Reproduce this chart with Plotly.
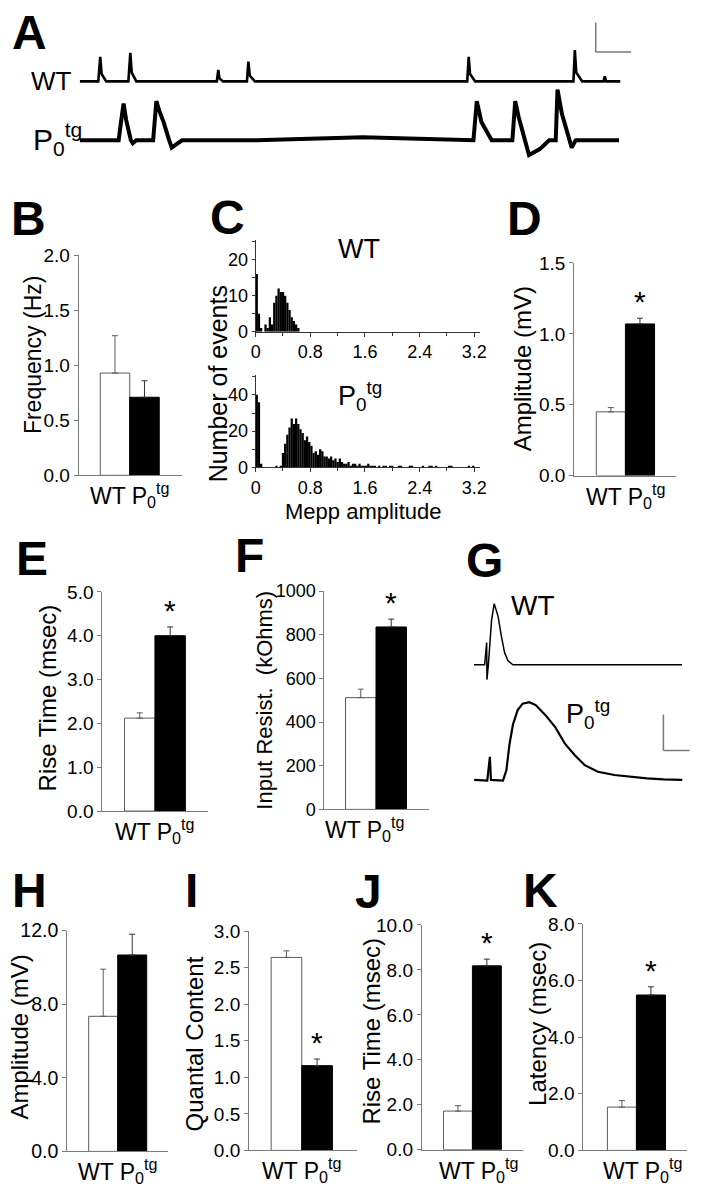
import plotly.graph_objects as go

W, H = 706, 1200
FONT = "Liberation Sans, Arial, Helvetica, sans-serif"
AXC = "#7a7a7a"

# ---------------- data ----------------
groups = ["WT", "P0tg"]
freq_mean, freq_err = [0.93, 0.71], [0.34, 0.15]
mepp_amp_mean, mepp_amp_err = [0.45, 1.07], [0.03, 0.04]
mepp_rise_mean, mepp_rise_err = [2.12, 4.00], [0.12, 0.20]
input_res_mean, input_res_err = [512, 836], [39, 36]
epp_amp_mean, epp_amp_err = [7.34, 10.67], [2.56, 1.13]
quantal_mean, quantal_err = [2.64, 1.16], [0.09, 0.09]
epp_rise_mean, epp_rise_err = [1.72, 8.18], [0.24, 0.30]
latency_mean, latency_err = [1.53, 5.49], [0.23, 0.29]

# MEPP amplitude histograms (bin width 0.032 mV, bins start at 0)
BIN = 0.032
wt_counts = [16, 5, 1, 0, 2, 1, 4, 2, 8, 10, 12, 11, 11, 10, 8, 6, 4, 3, 2, 1]
p0_counts = [40, 36, 2, 0, 0, 0, 0, 0, 0, 1,
             0, 1, 8, 13, 18, 22, 27, 24, 27, 24,
             21, 19, 15, 17, 14, 12, 8, 9, 7, 10,
             9, 6, 6, 5, 6, 4, 5, 3, 5, 3,
             2, 2, 3, 1, 2, 2, 1, 2, 1, 1,
             1, 2, 1, 1, 1, 0, 1, 0, 1, 1,
             0, 1, 1, 0, 0, 1, 1, 0, 0, 0,
             1, 1, 0, 0, 0, 0, 1, 0, 0, 1,
             1, 0, 1, 0, 0, 0, 0, 0, 1, 1,
             0, 0, 0, 0, 0, 0, 0, 1, 0, 1]
hist_ticks = [0, 0.8, 1.6, 2.4, 3.2]
hist_ticktext = ["0", "0.8", "1.6", "2.4", "3.2"]

# Panel A: spontaneous MEPP traces (time s, membrane potential mV rel. baseline)
wt_a_t = [0, 0.105, 0.116, 0.124, 0.15, 0.275, 0.286, 0.294, 0.32, 0.775, 0.783, 0.79, 0.81,
          0.945, 0.953, 0.961, 0.99, 2.19, 2.198, 2.206, 2.235, 2.79, 2.798, 2.806, 2.84,
          2.96, 2.967, 2.975, 3.055]
wt_a_v = [0, 0, 0.83, 0.25, 0, 0, 0.97, 0.3, 0, 0, 0.39, 0.1, 0,
          0, 0.67, 0.2, 0, 0, 0.83, 0.25, 0, 0, 1.06, 0.3, 0,
          0, 0.17, 0, 0]
p0_a_t = [0, 0.22, 0.233, 0.248, 0.262, 0.289, 0.30, 0.32, 0.415, 0.425, 0.433, 0.45, 0.475,
          0.503, 0.52, 0.578, 1.0, 1.6, 2.1, 2.225, 2.235, 2.244, 2.27, 2.328, 2.445, 2.455,
          2.461, 2.48, 2.517, 2.539, 2.6, 2.653, 2.69, 2.697, 2.70, 2.725, 2.767, 2.78, 2.803, 3.048]
p0_a_v = [0, 0, 0.6, 1.25, 0.7, 0, -0.1, 0, 0, 0.7, 1.33, 1.0, 0.6,
          0.05, -0.25, 0, 0, 0.1, 0, 0, 0.7, 1.33, 0.62, 0, 0, 0.8,
          1.33, 0.8, 0.05, -0.5, -0.3, 0, 0, 0.9, 1.72, 0.9, 0.05, -0.25, 0, 0]
A_OFFSET = 2.0      # vertical offset of WT trace (mV)

# Panel G: evoked EPP traces (time ms, mV)
wt_g_t = [0, 4.1, 4.87, 4.98, 5.5, 6.74, 7.75, 9.25, 10.5, 11.7, 13.0, 14.9, 30, 50, 79.4]
wt_g_v = [0, 0, 3.1, -2.05, -0.1, 6.2, 8.5, 6.7, 3.96, 1.69, 0.55, 0, 0, 0, 0]
p0_g_t = [0.1, 5.1, 6.1, 6.5, 11.1, 12.4, 13.6, 14.9, 16.7, 18.6, 21.1, 23.6, 27.3, 31.1,
          34.8, 38.6, 42.3, 47.3, 53.6, 59.8, 66.0, 72.3, 79.5]
p0_g_v = [0, -0.1, 3.2, 0, -0.1, 1.36, 5.0, 7.7, 9.7, 10.6, 10.8, 10.4, 9.0, 7.3,
          5.0, 3.4, 2.05, 1.14, 0.68, 0.45, 0.22, 0.09, 0]
G_OFFSET = 16.0     # vertical offset of WT trace (mV)


# ---------------- helpers ----------------
def xdom(x0, x1):
    return [x0 / W, x1 / W]


def ydom(ytop, ybot):
    return [1 - ybot / H, 1 - ytop / H]


def px(x):
    return x / W


def py(y):
    return 1 - y / H


fig = go.Figure()
layout = dict(
    width=W, height=H, margin=dict(l=0, r=0, t=0, b=0),
    paper_bgcolor="white", plot_bgcolor="white",
    showlegend=False, barmode="overlay",
    font=dict(family=FONT, color="black"),
)
annotations = []
shapes = []

# --- Panel A (axis 1) ---
layout["xaxis"] = dict(domain=xdom(76, 640), range=[0, 3.133], visible=False, anchor="y")
layout["yaxis"] = dict(domain=ydom(0, 150), range=[-0.61, 4.39], visible=False, anchor="x")
fig.add_trace(go.Scatter(x=wt_a_t, y=[v + A_OFFSET for v in wt_a_v], mode="lines",
                         line=dict(color="black", width=2.6), xaxis="x", yaxis="y"))
fig.add_trace(go.Scatter(x=p0_a_t, y=p0_a_v, mode="lines",
                         line=dict(color="black", width=4.0), xaxis="x", yaxis="y"))
# scale bar (1 mV, 0.2 s)
shapes.append(dict(type="line", xref="x", yref="y", x0=2.916, x1=2.916, y0=3.0, y1=4.0,
                   line=dict(color=AXC, width=1.5)))
shapes.append(dict(type="line", xref="x", yref="y", x0=2.916, x1=3.116, y0=3.0, y1=3.0,
                   line=dict(color=AXC, width=1.5)))

# --- bar panels ---
bar_panels = [
    # name, axis idx, rect(x0,x1,ytop,ybot), xrange, yrange, tickvals, fmt, tick size, mean, err, star, label shift px
    ("B", 2, (75, 180, 249, 473), [-1.23, 2.27], [0, 2.0], [0, 0.5, 1.0, 1.5, 2.0], ".1f", 19,
     freq_mean, freq_err, False, 0),
    ("D", 3, (579, 683, 256.7, 473.3), [-1.26, 2.25], [0, 1.5], [0, 0.5, 1.0, 1.5], ".1f", 19,
     mepp_amp_mean, mepp_amp_err, True, 0),
    ("E", 4, (99, 207, 591.7, 815), [-1.23, 2.26], [0, 5.0], [0, 1, 2, 3, 4, 5], ".1f", 19,
     mepp_rise_mean, mepp_rise_err, True, 0),
    ("F", 5, (325, 431.7, 591, 813.3), [-1.19, 2.25], [0, 1000], [0, 200, 400, 600, 800, 1000], "d", 18,
     input_res_mean, input_res_err, True, -12),
    ("H", 6, (63.3, 165.7, 936.7, 1161.7), [-1.24, 2.23], [0, 12], [0, 4, 8, 12], ".1f", 19.5,
     epp_amp_mean, epp_amp_err, False, 0),
    ("I", 7, (248.3, 358, 937.3, 1160.7), [-1.22, 2.3], [0, 3.0], [0, 0.5, 1.0, 1.5, 2.0, 2.5, 3.0], ".1f", 19,
     quantal_mean, quantal_err, True, 0),
    ("J", 8, (424, 527, 931, 1160), [-1.25, 2.25], [0, 10], [0, 2, 4, 6, 8, 10], ".1f", 19,
     epp_rise_mean, epp_rise_err, True, 6),
    ("K", 9, (588.3, 694, 930, 1160.7), [-1.33, 2.25], [0, 8], [0, 2, 4, 6, 8], ".1f", 19,
     latency_mean, latency_err, True, 6),
]

for name, k, (x0, x1, yt, yb), xr, yr, tv, fmt, tfs, mean, err, star, lshift in bar_panels:
    xa, ya = f"x{k}", f"y{k}"
    layout[f"xaxis{k}"] = dict(domain=xdom(x0, x1), range=xr, anchor=ya, showline=True,
                               linecolor=AXC, linewidth=1, ticks="", showticklabels=False,
                               showgrid=False, zeroline=False, fixedrange=True)
    layout[f"yaxis{k}"] = dict(domain=ydom(yt, yb), range=yr, anchor=xa, showline=True,
                               linecolor=AXC, linewidth=1, ticks="outside", ticklen=4,
                               tickcolor=AXC, tickvals=tv, tickformat=fmt,
                               tickfont=dict(size=tfs, family=FONT, color="black"),
                               showgrid=False, zeroline=False, fixedrange=True)
    fig.add_trace(go.Bar(x=[0], y=[mean[0]], width=1, xaxis=xa, yaxis=ya,
                         marker=dict(color="white", line=dict(color="#5a5a5a", width=1)),
                         error_y=dict(type="data", symmetric=False, array=[err[0]], arrayminus=[0],
                                      color="#5a5a5a", thickness=1, width=3)))
    fig.add_trace(go.Bar(x=[1], y=[mean[1]], width=1, xaxis=xa, yaxis=ya,
                         marker=dict(color="black", line=dict(color="black", width=1)),
                         error_y=dict(type="data", symmetric=False, array=[err[1]], arrayminus=[0],
                                      color="#333333", thickness=1, width=3)))
    if star:
        annotations.append(dict(xref=xa, yref=ya, x=1, y=mean[1] + err[1], text="*",
                                showarrow=False, yanchor="bottom", yshift=-2,
                                font=dict(size=30, family=FONT, color="black")))
    annotations.append(dict(xref=xa, yref=f"{ya} domain", x=0.5, y=0, xshift=lshift, yshift=-2,
                            text="WT P<sub>0</sub><sup>tg</sup>", showarrow=False,
                            xanchor="center", yanchor="top",
                            font=dict(size=23, family=FONT, color="black")))

# --- Panel C histograms (axes 10, 11) ---
for k, counts, (yt, yb), yr, ytv, ymin in [
        (10, wt_counts, (233, 326.7), [0, 25.5], [0, 10, 20], 5),
        (11, p0_counts, (370.7, 465), [0, 51], [0, 20, 40], 10)]:
    xa, ya = f"x{k}", f"y{k}"
    centers = [(i + 0.5) * BIN for i in range(len(counts))]
    layout[f"xaxis{k}"] = dict(domain=xdom(255, 483), range=[0, 3.28], anchor=ya, showline=True,
                               linecolor="#333333", linewidth=1, ticks="outside", ticklen=4,
                               tickcolor="#333333", tickvals=hist_ticks, ticktext=hist_ticktext,
                               minor=dict(dtick=0.4, tick0=0, ticks="outside", ticklen=3,
                                          tickcolor="#333333"),
                               tickfont=dict(size=18, family=FONT, color="black"),
                               showgrid=False, zeroline=False, fixedrange=True)
    layout[f"yaxis{k}"] = dict(domain=ydom(yt, yb), range=yr, anchor=xa, showline=True,
                               linecolor="#333333", linewidth=1, ticks="outside", ticklen=3,
                               tickcolor="#333333", tickvals=ytv,
                               minor=dict(dtick=ymin, tick0=0, ticks="outside", ticklen=3,
                                          tickcolor="#333333"),
                               tickfont=dict(size=18, family=FONT, color="black"),
                               showgrid=False, zeroline=False, fixedrange=True)
    fig.add_trace(go.Bar(x=centers, y=counts, width=BIN * 1.04, xaxis=xa, yaxis=ya,
                         marker=dict(color="black", line=dict(width=0))))

# --- Panel G (axis 12) ---
layout["xaxis12"] = dict(domain=xdom(477, 697), range=[0, 82.5], visible=False, anchor="y12")
layout["yaxis12"] = dict(domain=ydom(590, 800), range=[-2.28, 26.37], visible=False, anchor="x12")
fig.add_trace(go.Scatter(x=wt_g_t, y=[v + G_OFFSET for v in wt_g_v], mode="lines",
                         line=dict(color="black", width=1.5), xaxis="x12", yaxis="y12"))
fig.add_trace(go.Scatter(x=p0_g_t, y=p0_g_v, mode="lines",
                         line=dict(color="black", width=2.2), xaxis="x12", yaxis="y12"))
shapes.append(dict(type="line", xref="x12", yref="y12", x0=72.3, x1=72.3, y0=4.09, y1=9.09,
                   line=dict(color=AXC, width=1.5)))
shapes.append(dict(type="line", xref="x12", yref="y12", x0=72.3, x1=82.3, y0=4.09, y1=4.09,
                   line=dict(color=AXC, width=1.5)))

# --- panel letters ---
for letter, cx, cy in [("A", 24.5, 22), ("B", 24, 211.5), ("C", 226, 210), ("D", 528, 211.5),
                       ("E", 27.5, 557.5), ("F", 248.5, 554.5), ("G", 487.5, 560),
                       ("H", 25, 895.5), ("I", 190, 895.5), ("J", 370, 897), ("K", 545, 895.5)]:
    annotations.append(dict(xref="paper", yref="paper", x=px(cx), y=py(cy), text=f"<b>{letter}</b>",
                            showarrow=False, xanchor="center", yanchor="middle",
                            font=dict(size=48, family=FONT, color="black")))

# --- y-axis titles ---
for txt, cx, cy, fs in [("Frequency (Hz)", 28, 351, 23), ("Number of events", 217, 380, 25),
                        ("Amplitude (mV)", 526, 365, 24), ("Rise Time (msec)", 43, 700, 24),
                        ("Input Resist.  (kOhms)", 264, 702, 22), ("Amplitude (mV)", 15, 1045, 24),
                        ("Quantal Content", 193, 1052, 24), ("Rise Time (msec)", 373, 1039, 24),
                        ("Latency (msec)", 541, 1032, 24)]:
    annotations.append(dict(xref="paper", yref="paper", x=px(cx), y=py(cy), text=txt.replace("  ", "&nbsp; "),
                            textangle=-90, showarrow=False, xanchor="center", yanchor="middle",
                            font=dict(size=fs, family=FONT, color="black")))

# --- other text labels ---
for txt, cx, cy, fs in [("WT", 47, 71, 26), ("P<sub>0</sub><sup>tg</sup>", 53, 130, 30),
                        ("WT", 360, 242, 27), ("P<sub>0</sub><sup>tg</sup>", 361, 392, 27),
                        ("Mepp amplitude", 365, 510, 22),
                        ("WT", 537.5, 606, 28), ("P<sub>0</sub><sup>tg</sup>", 593, 716, 27)]:
    annotations.append(dict(xref="paper", yref="paper", x=px(cx), y=py(cy), text=txt,
                            showarrow=False, xanchor="center", yanchor="middle",
                            font=dict(size=fs, family=FONT, color="black")))

layout["annotations"] = annotations
layout["shapes"] = shapes
fig.update_layout(**layout)
fig.write_html("out.html", config={"displayModeBar": False},
               post_script="document.body.style.margin='0px';")
